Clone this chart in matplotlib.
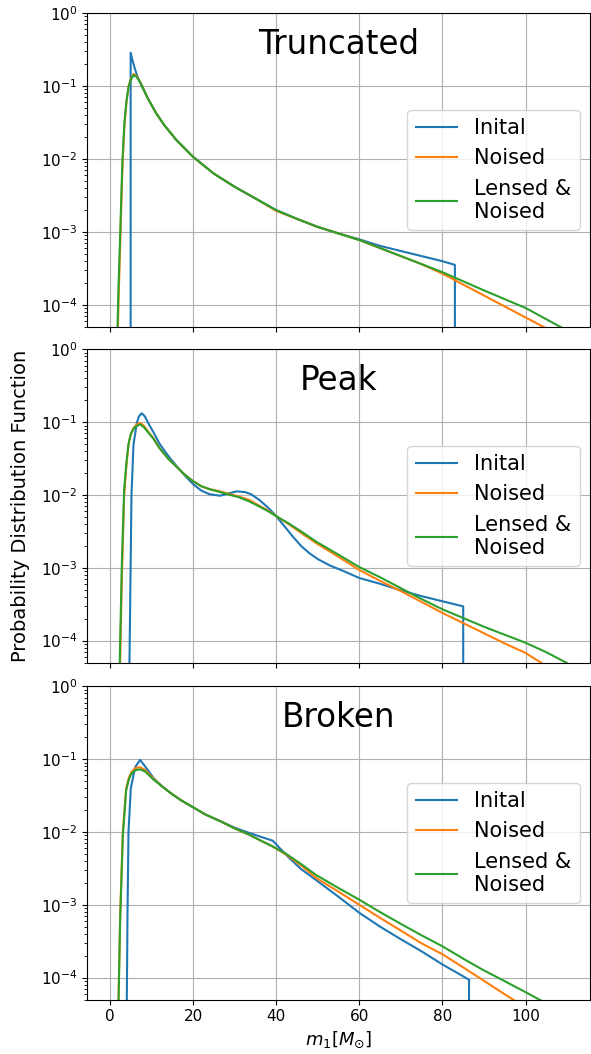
import matplotlib
matplotlib.use("Agg")
import matplotlib.pyplot as plt
import numpy as np

# values, stored as log10(pdf)
TITLES = ["Truncated", "Peak", "Broken"]
LABELS = ["Inital", "Noised", "Lensed &\nNoised"]
FLOOR = -8.0  # stands in for pdf == 0 on the log axis

# --- Truncated ---
trunc_init_x = [5.0, 5.0, 5.5, 6.0, 6.5, 7.5, 9, 11, 13, 16, 20, 25, 30, 35, 40,
                45, 50, 55, 60, 65, 70, 75, 80, 83, 83]
trunc_init_y = [FLOOR, -0.545, -0.66, -0.76, -0.85, -0.98, -1.155, -1.36, -1.53,
                -1.74, -1.97, -2.20, -2.38, -2.54, -2.70, -2.82, -2.93, -3.02,
                -3.10, -3.19, -3.26, -3.33, -3.40, -3.45, FLOOR]
trunc_x = [1.6, 1.84, 2.1, 2.5, 3.0, 3.5, 4.0, 4.5, 5.0, 5.7, 6.5, 7.5, 9, 11, 13,
           16, 20, 25, 30, 35, 40, 45, 50, 55, 60, 65, 70, 75, 80, 90, 100, 110]
trunc_noised_y = [-5.3, -4.6, -3.9, -3.15, -2.15, -1.55, -1.22, -1.01, -0.91,
                  -0.835, -0.87, -0.97, -1.155, -1.36, -1.53, -1.74, -1.97, -2.20,
                  -2.38, -2.54, -2.71, -2.82, -2.93, -3.02, -3.11, -3.22, -3.33,
                  -3.44, -3.57, -3.87, -4.17, -4.47]
trunc_lensed_y = [-5.0, -4.3, -3.7, -3.0, -2.05, -1.5, -1.2, -1.01, -0.92, -0.85,
                  -0.88, -0.97, -1.155, -1.36, -1.53, -1.74, -1.97, -2.20, -2.38,
                  -2.54, -2.70, -2.82, -2.93, -3.02, -3.11, -3.22, -3.33, -3.44,
                  -3.55, -3.80, -4.04, -4.35]

# --- Peak ---
peak_init_x = [4.6, 4.72, 4.96, 5.2, 5.68, 6.48, 7.0, 7.68, 8.4, 9.5, 10.5, 12.0,
               14, 16, 18, 20, 22, 24, 26.5, 28.5, 30.5, 32.5, 34, 36, 38, 40, 42,
               44, 46, 48, 50, 53, 56, 60, 65, 70, 75, 80, 85, 85]
peak_init_y = [-6.0, -4.29, -3.14, -2.0, -1.31, -1.01, -0.92, -0.877, -0.92, -1.04,
               -1.14, -1.30, -1.46, -1.60, -1.73, -1.85, -1.94, -1.99, -2.01, -1.98,
               -1.95, -1.96, -1.99, -2.07, -2.17, -2.29, -2.43, -2.57, -2.70, -2.80,
               -2.88, -2.97, -3.04, -3.14, -3.22, -3.31, -3.39, -3.46, -3.53, FLOOR]
peak_x = [2.2, 2.48, 2.88, 3.44, 4.0, 4.48, 5.0, 5.68, 6.5, 7.28, 8.2, 9.5, 10.5,
          12.0, 14, 16, 18, 20, 22, 24, 26.5, 29, 31, 33.6, 36, 38, 40, 43, 46,
          49.6, 55, 60, 65, 70, 75, 80, 85, 90, 95, 100, 105, 110]
peak_noised_y = [-5.0, -4.29, -3.14, -2.0, -1.58, -1.31, -1.17, -1.08, -1.03, -1.01,
                 -1.05, -1.15, -1.22, -1.36, -1.50, -1.61, -1.72, -1.81, -1.88,
                 -1.92, -1.95, -1.99, -2.02, -2.07, -2.15, -2.21, -2.29, -2.40,
                 -2.52, -2.66, -2.85, -3.03, -3.18, -3.32, -3.47, -3.62, -3.76,
                 -3.90, -4.04, -4.17, -4.35, -4.52]
peak_lensed_y = [-4.8, -4.0, -2.95, -1.92, -1.55, -1.30, -1.17, -1.09, -1.05,
                 -1.03, -1.07, -1.16, -1.23, -1.36, -1.50, -1.61, -1.72, -1.81,
                 -1.88, -1.92, -1.96, -2.00, -2.03, -2.09, -2.16, -2.22, -2.29,
                 -2.39, -2.50, -2.64, -2.82, -2.99, -3.13, -3.28, -3.43, -3.57,
                 -3.69, -3.81, -3.92, -4.03, -4.16, -4.31]

# --- Broken ---
broken_init_x = [4.0, 4.08, 4.24, 4.48, 5.04, 6.08, 7.28, 8.88, 10.5, 12.5, 14.5,
                 17, 20, 23, 26.5, 30, 33.6, 36, 39.2, 41, 43.2, 46, 49.6, 55, 60,
                 65, 69.6, 75, 80, 84, 86.4, 86.4]
broken_init_y = [-6.0, -4.29, -3.14, -2.0, -1.40, -1.11, -1.01, -1.13, -1.26,
                 -1.37, -1.46, -1.56, -1.66, -1.76, -1.85, -1.94, -2.015, -2.06,
                 -2.12, -2.23, -2.36, -2.51, -2.66, -2.89, -3.11, -3.30, -3.46,
                 -3.64, -3.82, -3.95, -4.03, FLOOR]
broken_x = [1.8, 2.08, 2.48, 3.12, 3.92, 4.6, 5.28, 6.2, 7.28, 8.5, 10.5, 12.5,
            14.5, 17, 20, 23, 26.5, 30, 33.6, 36, 39.2, 42.4, 46, 49.6, 55, 60, 65,
            69.6, 75, 80, 85, 89.6, 95, 100, 105, 110]
broken_noised_y = [-5.5, -4.29, -3.14, -2.0, -1.40, -1.25, -1.17, -1.12, -1.11,
                   -1.15, -1.27, -1.37, -1.46, -1.56, -1.66, -1.76, -1.85, -1.95,
                   -2.04, -2.11, -2.20, -2.31, -2.46, -2.63, -2.82, -3.00, -3.18,
                   -3.34, -3.53, -3.68, -3.86, -4.03, -4.23, -4.41, -4.59, -4.77]
broken_lensed_y = [-5.6, -4.35, -3.2, -2.05, -1.43, -1.27, -1.19, -1.15, -1.14,
                   -1.17, -1.28, -1.37, -1.46, -1.56, -1.66, -1.76, -1.85, -1.95,
                   -2.04, -2.11, -2.20, -2.30, -2.44, -2.59, -2.77, -2.93, -3.10,
                   -3.25, -3.42, -3.57, -3.74, -3.89, -4.05, -4.20, -4.355, -4.50]

PANELS = [
    (trunc_init_x, trunc_init_y, trunc_x, trunc_noised_y, trunc_lensed_y),
    (peak_init_x, peak_init_y, peak_x, peak_noised_y, peak_lensed_y),
    (broken_init_x, broken_init_y, broken_x, broken_noised_y, broken_lensed_y),
]

W, H = 591, 1054
fig = plt.figure(figsize=(W / 100, H / 100), dpi=100)
left = 87 / W
width = 503 / W
tops = [13, 349.4, 686.4]
bottoms = [327, 662.5, 999.5]

axes = []
for i, (title, data) in enumerate(zip(TITLES, PANELS)):
    ix, iy, sx, ny, ly = data
    ax = fig.add_axes([left, 1 - bottoms[i] / H, width, (bottoms[i] - tops[i]) / H],
                      sharex=axes[0] if axes else None)
    ax.plot(ix, 10 ** np.array(iy), color="tab:blue", lw=1.5, label=LABELS[0])
    ax.plot(sx, 10 ** np.array(ny), color="tab:orange", lw=1.5, label=LABELS[1])
    ax.plot(sx, 10 ** np.array(ly), color="tab:green", lw=1.5, label=LABELS[2])
    ax.set_yscale("log")
    ax.set_ylim(5e-5, 1)
    ax.set_xlim(-5.5, 115.5)
    ax.grid(True, which="major", color="#b0b0b0", lw=0.8)
    ax.tick_params(labelsize=11)
    ax.text(0.5, 0.90, title, transform=ax.transAxes, ha="center", va="center",
            fontsize=23.5)
    ax.legend(loc="center right", fontsize=15)
    if i < 2:
        ax.tick_params(labelbottom=False)
    axes.append(ax)

axes[1].set_ylabel("Probability Distribution Function", fontsize=14, labelpad=8)
axes[2].set_xlabel(r"$m_1[M_{\odot}]$", fontsize=13)

fig.savefig("out.png", dpi=100, facecolor="white")
